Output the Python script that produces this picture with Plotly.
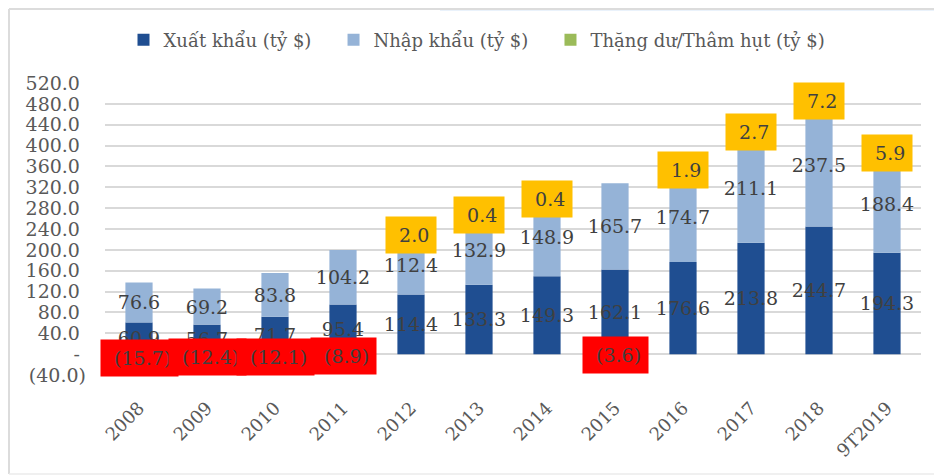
import plotly.graph_objects as go

# ---- data ----
categories = ["2008", "2009", "2010", "2011", "2012", "2013", "2014", "2015",
              "2016", "2017", "2018", "9T2019"]
export_vals = [60.9, 56.7, 71.7, 95.4, 114.4, 133.3, 149.3, 162.1, 176.6, 213.8, 244.7, 194.3]
import_vals = [76.6, 69.2, 83.8, 104.2, 112.4, 132.9, 148.9, 165.7, 174.7, 211.1, 237.5, 188.4]
balance_vals = [-15.7, -12.4, -12.1, -8.9, 2.0, 0.4, 0.4, -3.6, 1.9, 2.7, 7.2, 5.9]
series_names = ["Xuất khẩu (tỷ $)", "Nhập khẩu (tỷ $)", "Thặng dư/Thâm hụt (tỷ $)"]
ytick_vals = [-40, 0, 40, 80, 120, 160, 200, 240, 280, 320, 360, 400, 440, 480, 520]

NBSP = "\u00a0"


def acct(v):
    if v < 0:
        return f"({abs(v):.1f})"
    if v == 0:
        return "-"
    return f"{v:.1f}"


def ytick_text(v):
    if v < 0:
        return f"({abs(v):.1f})"
    if v == 0:
        return "-" + NBSP
    return f"{v:.1f}" + NBSP


FONT = "DejaVu Serif"
LABEL_COLOR = "#404040"
AXIS_COLOR = "#595959"
GRID = "#D9D9D9"

legend_names = [n + NBSP * 3 for n in series_names[:2]] + [series_names[2]]

fig = go.Figure()
fig.add_trace(go.Bar(
    x=categories, y=export_vals, name=legend_names[0],
    marker=dict(color="#1F4E91", line=dict(width=0)),
    text=[acct(v) for v in export_vals], textposition="inside",
    insidetextanchor="middle", textangle=0, constraintext="none",
    insidetextfont=dict(family=FONT, size=19, color=LABEL_COLOR),
))
fig.add_trace(go.Bar(
    x=categories, y=import_vals, name=legend_names[1],
    marker=dict(color="#95B3D7", line=dict(width=0)),
    text=[acct(v) for v in import_vals], textposition="inside",
    insidetextanchor="middle", textangle=0, constraintext="none",
    insidetextfont=dict(family=FONT, size=19, color=LABEL_COLOR),
))
fig.add_trace(go.Bar(
    x=categories, y=balance_vals, name=legend_names[2],
    marker=dict(color="#9BBB59", line=dict(width=0)),
))

# surplus / deficit labels in coloured boxes (x given as category index)
for idx, (e, i, s) in enumerate(zip(export_vals, import_vals, balance_vals)):
    yc = e + i + s / 2 if s > 0 else s / 2
    fig.add_annotation(
        x=idx, y=yc, xref="x", yref="y", text=NBSP + acct(s), showarrow=False,
        bgcolor="#FFC000" if s > 0 else "#FF0000", borderpad=7,
        font=dict(family=FONT, size=19, color=LABEL_COLOR),
        xanchor="center", yanchor="middle",
    )

# layout geometry (figure pixels; page has an 8px body offset)
OFF = 8
W, H = 942, 476
L, T, PW, PH = 105 - OFF, 83 - OFF, 816, 292


def px_x(p):
    return (p - OFF - L) / PW


def px_y(p):
    return (T + PH - (p - OFF)) / PH


fig.add_shape(type="rect", xref="paper", yref="paper",
              x0=px_x(440), x1=px_x(950), y0=px_y(OFF + 3), y1=px_y(OFF),
              fillcolor="#EAF2FB", line=dict(width=0), layer="below")
fig.add_shape(type="line", xref="paper", yref="paper",
              x0=px_x(OFF + 1), x1=px_x(OFF + 1), y0=px_y(OFF + 1), y1=px_y(474),
              line=dict(color="#DCDCDC", width=2))
fig.add_shape(type="line", xref="paper", yref="paper",
              x0=px_x(OFF + 1), x1=px_x(950), y0=px_y(OFF + 1), y1=px_y(OFF + 1),
              line=dict(color="#DCDCDC", width=2))
fig.add_shape(type="line", xref="paper", yref="paper",
              x0=px_x(OFF + 1), x1=px_x(950), y0=px_y(474), y1=px_y(474),
              line=dict(color="#EBEBEB", width=1.5))

fig.update_layout(
    width=W, height=H,
    margin=dict(l=L, r=W - L - PW, t=T, b=H - T - PH, autoexpand=False),
    barmode="relative", bargap=0.6,
    plot_bgcolor="white", paper_bgcolor="white",
    font=dict(family=FONT, color=AXIS_COLOR),
    showlegend=True,
    legend=dict(orientation="h", x=px_x(477), xanchor="center",
                y=px_y(40), yanchor="middle",
                font=dict(family=FONT, size=18, color=AXIS_COLOR),
                traceorder="normal", bgcolor="rgba(0,0,0,0)"),
    xaxis=dict(type="category", range=[-0.5, len(categories) - 0.5],
               automargin=False, tickangle=-45, showgrid=False, showline=False,
               ticks="", ticklabelstandoff=18,
               tickfont=dict(family=FONT, size=18, color=AXIS_COLOR)),
    yaxis=dict(range=[-40, 520], tickvals=ytick_vals, automargin=False,
               ticktext=[ytick_text(v) for v in ytick_vals],
               showgrid=True, gridcolor=GRID, gridwidth=1.5,
               zeroline=True, zerolinecolor=GRID, zerolinewidth=1.5,
               showline=False, ticks="", ticklabelstandoff=18,
               tickfont=dict(family=FONT, size=19, color=AXIS_COLOR)),
)

fig.write_html("out.html")
